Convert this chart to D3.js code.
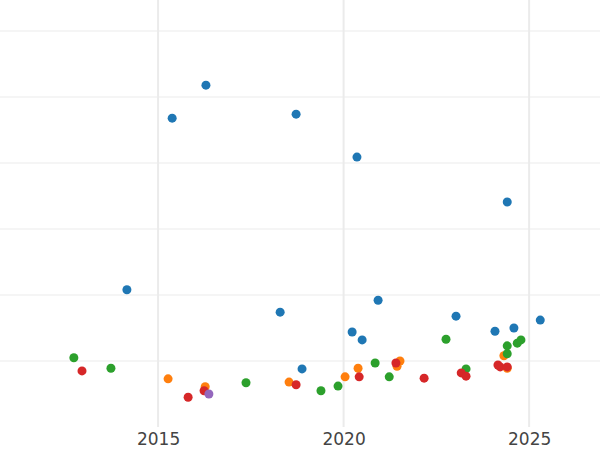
<!DOCTYPE html>
<html><head><meta charset="utf-8">
<script src="https://cdn.jsdelivr.net/npm/d3@7"></script>
<style>body{margin:0;background:#fff}</style>
</head><body>
<div id="chart"></div>
<script>
// x tick labels and gridline values
const xTicks = [2015, 2020, 2025];
const yGrid = [1, 2, 3, 4, 5, 6];
const seriesNames = ["blue", "orange", "green", "red", "purple"];
const seriesColors = ["#1f77b4", "#ff7f0e", "#2ca02c", "#d62728", "#9467bd"];

// points per series: [year, value]
const bluePts = [[2015.38,4.68],[2016.29,5.18],[2018.72,4.74],[2020.36,4.09],[2024.41,3.41],[2014.16,2.08],[2018.29,1.74],[2020.93,1.92],[2020.23,1.44],[2020.50,1.32],[2023.03,1.68],[2018.88,0.88],[2024.08,1.45],[2024.59,1.50],[2025.30,1.62]];
const orangePts = [[2015.27,0.73],[2016.27,0.61],[2018.53,0.68],[2020.39,0.89],[2020.04,0.76],[2021.52,1.00],[2021.44,0.92],[2024.32,1.08],[2024.41,0.89]];
const greenPts = [[2012.73,1.05],[2013.73,0.89],[2017.37,0.67],[2019.39,0.55],[2019.85,0.62],[2020.85,0.97],[2021.23,0.76],[2022.76,1.33],[2023.30,0.88],[2024.41,1.23],[2024.41,1.11],[2024.68,1.27],[2024.78,1.32]];
const redPts = [[2012.95,0.85],[2015.81,0.45],[2016.24,0.55],[2018.72,0.64],[2020.42,0.76],[2021.41,0.97],[2022.17,0.74],[2023.17,0.82],[2023.30,0.77],[2024.16,0.94],[2024.22,0.91],[2024.41,0.91]];
const purplePts = [[2016.37,0.50]];
const allSeries = [bluePts, orangePts, greenPts, redPts, purplePts];

const width = 600, height = 450;
const plotBottom = 427;

const svg = d3.select("#chart").append("svg")
    .attr("width", width).attr("height", height);

const x = d3.scaleLinear().domain([2010.74, 2026.91]).range([0, width]);
const y = d3.scaleLinear().domain([0, 6.47]).range([plotBottom, 0]);

// gridlines
svg.append("g").selectAll("line").data(yGrid).join("line")
    .attr("x1", 0).attr("x2", width)
    .attr("y1", d => y(d)).attr("y2", d => y(d))
    .attr("stroke", "#ebebeb").attr("stroke-width", 1);
svg.append("g").selectAll("line").data(xTicks).join("line")
    .attr("x1", d => x(d)).attr("x2", d => x(d))
    .attr("y1", 0).attr("y2", plotBottom)
    .attr("stroke", "#ebebeb").attr("stroke-width", 2);

// x axis labels
const xAxis = svg.append("g")
    .attr("transform", "translate(0," + plotBottom + ")")
    .call(d3.axisBottom(x).tickValues(xTicks).tickFormat(d3.format("d")).tickSize(0).tickPadding(6));
xAxis.select(".domain").remove();
xAxis.selectAll("text")
    .attr("fill", "#444")
    .style("font-family", "DejaVu Sans")
    .style("font-size", "17px");

// points
allSeries.forEach((pts, i) => {
    svg.append("g").selectAll("circle").data(pts).join("circle")
        .attr("cx", d => x(d[0])).attr("cy", d => y(d[1]))
        .attr("r", 4.5)
        .attr("fill", seriesColors[i]);
});
</script>
</body></html>
